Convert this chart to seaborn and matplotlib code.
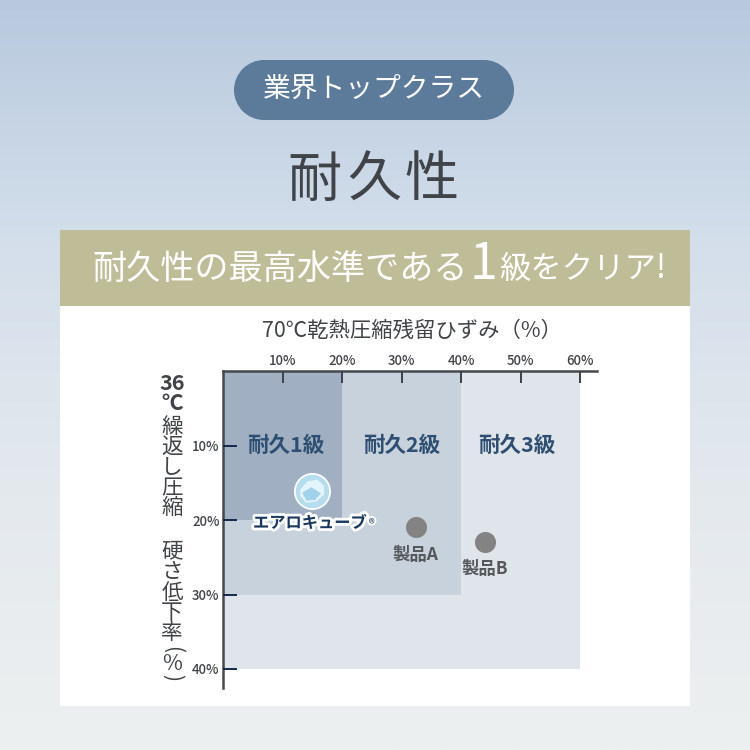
import numpy as np
import pandas as pd
import matplotlib
matplotlib.use('Agg')
import matplotlib.pyplot as plt
import matplotlib.patheffects as pe
from matplotlib.colors import LinearSegmentedColormap
from matplotlib.patches import Circle, Rectangle
import seaborn as sns

# data
products = ['エアロキューブ', '製品A', '製品B']
compression_set = [15.0, 32.5, 44.0]
hardness_loss = [16.1, 20.9, 22.9]
grades = ['耐久3級', '耐久2級', '耐久1級']
grade_x = [60, 40, 20]
grade_y = [40, 30, 20]
grade_label_x = [49.4, 30.0, 10.5]
grade_colors = ['#e0e5eb', '#c8d2dd', '#a0b0c2']
x_ticks = [10, 20, 30, 40, 50, 60]
y_ticks = [10, 20, 30, 40]

sns.set_theme(style='white')
plt.rcParams['font.family'] = ['Noto Sans CJK JP', 'DejaVu Sans']

DARK = '#404448'
NAVY = '#2f4f72'

fig = plt.figure(figsize=(7.5, 7.5), dpi=100)

# whole picture in pixel coordinates
bg = fig.add_axes([0, 0, 1, 1])
bg.set_xlim(0, 750)
bg.set_ylim(750, 0)
bg.axis('off')
cmap = LinearSegmentedColormap.from_list('bg', [(0, '#b8c9de'), (0.33, '#d4dfeb'), (0.66, '#e4e9ee'), (1, '#edf0f0')])
bg.imshow(np.linspace(0, 1, 256).reshape(-1, 1), cmap=cmap, extent=(0, 750, 750, 0), aspect='auto', zorder=0)
bg.add_patch(Rectangle((60, 306), 630, 400, color='white', lw=0, zorder=1))
bg.add_patch(Rectangle((60, 230), 630, 76, color='#bfbc98', lw=0, zorder=1))
# pill: bar with two round ends
bg.add_patch(Rectangle((264, 60), 220, 60, color='#5c7a9a', lw=0, zorder=1))
bg.add_patch(Circle((264, 90), 30, color='#5c7a9a', lw=0, zorder=1))
bg.add_patch(Circle((484, 90), 30, color='#5c7a9a', lw=0, zorder=1))

bg.text(374, 89, '業界トップクラス', color='white', fontsize=20, ha='center', va='center', zorder=2)
for ch, px in zip('耐久性', [314, 374, 432]):
    bg.text(px, 181, ch, color=DARK, fontsize=39, ha='center', va='center', zorder=2)
bg.text(92, 269, '耐久性の最高水準である', color='white', fontsize=24.6, ha='left', va='center', zorder=2)
bg.text(484, 265, '1', color='white', fontsize=36, ha='center', va='center', zorder=2)
bg.text(499, 269, '級をクリア!', color='white', fontsize=22.6, ha='left', va='center', zorder=2)
bg.text(412, 331, '70℃乾熱圧縮残留ひずみ（%）', color=DARK, fontsize=15.4, ha='center', va='center', zorder=2)

# vertical axis title, one glyph at a time
y_title = [('36', 384), ('℃', 404), ('繰', 427), ('返', 447), ('し', 467), ('圧', 488), ('縮', 508),
           ('硬', 551), ('さ', 572), ('低', 593), ('下', 613), ('率', 633), ('%', 664)]
for ch, py in y_title:
    bold = ch in ('36', '℃')
    bg.text(172, py, ch, color=DARK, fontsize=15.5, ha='center', va='center', zorder=2,
            fontweight='bold' if bold else 'normal')
bg.text(172, 650, '(', color=DARK, fontsize=15, rotation=-90, ha='center', va='center', zorder=2)
bg.text(172, 678, ')', color=DARK, fontsize=15, rotation=-90, ha='center', va='center', zorder=2)

# plot area: 223..597 px wide, 371..688 px high, 5.95 px per % in x and 7.45 px per % in y
ax = fig.add_axes([223 / 750, 1 - 688 / 750, 374 / 750, 317 / 750])
ax.patch.set_alpha(0)
ax.set_axisbelow(False)
for name, gx, gy, lx, col in zip(grades, grade_x, grade_y, grade_label_x, grade_colors):
    ax.add_patch(Rectangle((0, 0), gx, gy, color=col, lw=0, zorder=1))
    ax.text(lx, 10, name, color=NAVY, fontsize=15.5, fontweight='bold', ha='center', va='center', zorder=3)

df = pd.DataFrame({'product': products, 'x': compression_set, 'y': hardness_loss})
sns.scatterplot(data=df.iloc[1:], x='x', y='y', color='#838383', s=230, linewidth=0, ax=ax, zorder=4, legend=False)
# the cube badge, layered markers
aero = df.iloc[[0]]
cube = [(-0.9, 0.2), (-0.4, 0.75), (0.35, 0.9), (0.85, 0.45), (0.9, -0.2), (0.3, -0.75), (-0.5, -0.85), (-0.95, -0.3)]
fold = [(-0.85, -0.1), (-0.1, 0.35), (0.7, -0.15), (0.2, -0.7), (-0.5, -0.75)]
sns.scatterplot(data=aero, x='x', y='y', color='white', s=710, linewidth=0, ax=ax, zorder=4, legend=False)
sns.scatterplot(data=aero, x='x', y='y', color='#b5dcef', s=580, linewidth=0, ax=ax, zorder=5, legend=False)
sns.scatterplot(data=aero, x='x', y='y', color='#e4f4fb', s=330, marker=cube, linewidth=0, ax=ax, zorder=6, legend=False)
sns.scatterplot(data=aero, x='x', y='y', color='#a2d2ea', s=220, marker=fold, linewidth=0, ax=ax, zorder=7, legend=False)

ax.text(14.6, 20.4, 'エアロキューブ', color='#17375e', fontsize=11.7, fontweight='bold', ha='center', va='center', zorder=8,
        path_effects=[pe.withStroke(linewidth=4, foreground='white')])
ax.text(25.0, 20.6, '®', color='#17375e', fontsize=9, ha='center', va='center', zorder=8,
        path_effects=[pe.withStroke(linewidth=3, foreground='white')])
ax.text(32.4, 24.7, '製品A', color='#55585b', fontsize=12.5, fontweight='bold', ha='center', va='center', zorder=5)
ax.text(44.0, 26.6, '製品B', color='#55585b', fontsize=12.5, fontweight='bold', ha='center', va='center', zorder=5)

ax.set_xlim(0, 374 / 5.95)
ax.set_ylim(317 / 7.45, 0)
ax.set_xlabel('')
ax.set_ylabel('')
ax.set_xticks(x_ticks)
ax.set_xticklabels([f'{v}%' for v in x_ticks])
ax.set_yticks(y_ticks)
ax.set_yticklabels([f'{v}%' for v in y_ticks])
ax.xaxis.tick_top()
ax.tick_params(axis='x', direction='in', length=8.6, width=1.4, color='#3c4148', labelsize=9.5, labelcolor=DARK, pad=2.5)
ax.tick_params(axis='y', left=True, direction='in', length=10, width=1.4, color='#14284b', labelsize=9.5, labelcolor=DARK, pad=2.5)
for lab in ax.get_xticklabels() + ax.get_yticklabels():
    lab.set_fontweight('medium')
for side in ['right', 'bottom']:
    ax.spines[side].set_visible(False)
for side in ['top', 'left']:
    ax.spines[side].set_color('#45484d')
    ax.spines[side].set_linewidth(1.8)

fig.savefig('out.png', dpi=100)
